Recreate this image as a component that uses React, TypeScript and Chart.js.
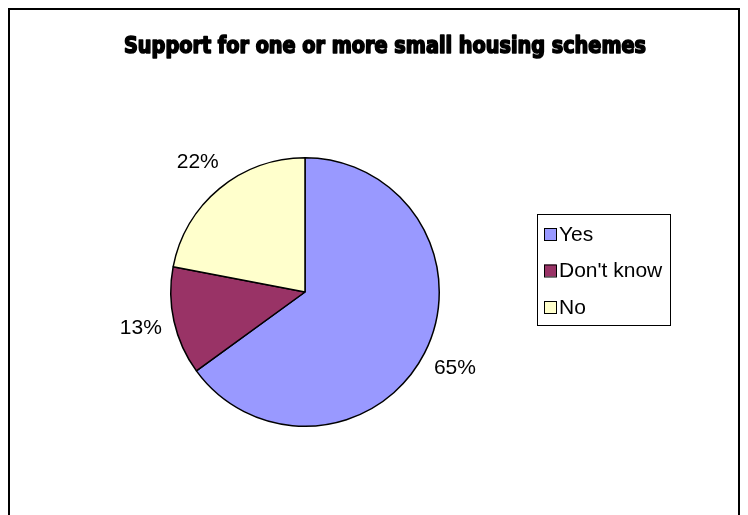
import React, { useEffect, useRef } from "react";
import { Chart, registerables } from "chart.js";

Chart.register(...registerables);

const TITLE = "Support for one or more small housing schemes";
const CATEGORIES = ["Yes", "Don't know", "No"];
const VALUES = [65, 13, 22];
const COLORS = ["#9999FF", "#993366", "#FFFFCC"];

const CANVAS_W = 728;
const CANVAS_H = 507;

const titlePlugin = {
  id: "titleImpact",
  afterDraw(chart: any) {
    const ctx = chart.ctx;
    ctx.save();
    ctx.font = "bold 23px 'Liberation Sans Narrow', 'DejaVu Sans Condensed', 'DejaVu Sans', sans-serif";
    const w = ctx.measureText(TITLE).width;
    ctx.translate(375, 43);
    ctx.scale(522 / w, 1);
    ctx.textAlign = "center";
    ctx.textBaseline = "alphabetic";
    ctx.fillStyle = "#000";
    ctx.strokeStyle = "#000";
    ctx.lineWidth = 1.6;
    ctx.lineJoin = "round";
    ctx.fillText(TITLE, 0, 0);
    ctx.strokeText(TITLE, 0, 0);
    ctx.restore();
  },
};

const pctLabelPlugin = {
  id: "pctLabels",
  afterDatasetsDraw(chart: any) {
    const ctx = chart.ctx;
    const meta = chart.getDatasetMeta(0);
    ctx.save();
    ctx.font = "21px 'Liberation Sans', Arial, sans-serif";
    ctx.fillStyle = "#000";
    ctx.textAlign = "center";
    ctx.textBaseline = "middle";
    meta.data.forEach((arc: any, i: number) => {
      const p = arc.getProps(["x", "y", "startAngle", "endAngle", "outerRadius"], true);
      const mid = (p.startAngle + p.endAngle) / 2;
      const r = p.outerRadius + 34;
      ctx.fillText(`${VALUES[i]}%`, p.x + Math.cos(mid) * r, p.y + Math.sin(mid) * r);
    });
    ctx.restore();
  },
};

const legendPlugin = {
  id: "boxLegend",
  afterDraw(chart: any) {
    const ctx = chart.ctx;
    ctx.save();
    ctx.font = "21px 'Liberation Sans', Arial, sans-serif";
    const maxW = Math.max(...CATEGORIES.map((c) => ctx.measureText(c).width));
    const left = 527;
    const top = 204;
    const rowH = 36.5;
    const boxW = Math.round(24 + maxW + 6);
    const boxH = Math.round(rowH * CATEGORIES.length + 1);
    ctx.fillStyle = "#fff";
    ctx.fillRect(left, top, boxW, boxH);
    ctx.strokeStyle = "#000";
    ctx.lineWidth = 1;
    ctx.strokeRect(left + 0.5, top + 0.5, boxW, boxH);
    ctx.textBaseline = "middle";
    ctx.textAlign = "left";
    CATEGORIES.forEach((c, i) => {
      const cy = top + 20 + i * rowH;
      ctx.fillStyle = COLORS[i];
      ctx.fillRect(left + 7, cy - 6, 12, 12);
      ctx.strokeStyle = "#000";
      ctx.strokeRect(left + 7.5, cy - 5.5, 12, 12);
      ctx.fillStyle = "#000";
      ctx.fillText(c, left + 22, cy + 1);
    });
    ctx.restore();
  },
};

export default function App() {
  const ref = useRef<HTMLCanvasElement | null>(null);
  useEffect(() => {
    if (!ref.current) return;
    const chart = new Chart(ref.current, {
      type: "pie",
      data: {
        labels: CATEGORIES,
        datasets: [
          {
            data: VALUES,
            backgroundColor: COLORS,
            borderColor: "#000",
            borderWidth: 1.5,
          },
        ],
      },
      options: {
        animation: false,
        responsive: false,
        maintainAspectRatio: false,
        layout: { padding: { left: 160, top: 147, right: CANVAS_W - 430, bottom: CANVAS_H - 417 } },
        plugins: {
          legend: { display: false },
          title: { display: false },
          tooltip: { enabled: false },
        },
      },
      plugins: [titlePlugin, pctLabelPlugin, legendPlugin],
    });
    return () => chart.destroy();
  }, []);
  return (
    <div
      style={{
        width: CANVAS_W,
        height: CANVAS_H + 10,
        border: "2px solid #000",
        borderBottom: "none",
        background: "#fff",
      }}
    >
      <canvas ref={ref} width={CANVAS_W} height={CANVAS_H} style={{ display: "block" }} />
    </div>
  );
}
